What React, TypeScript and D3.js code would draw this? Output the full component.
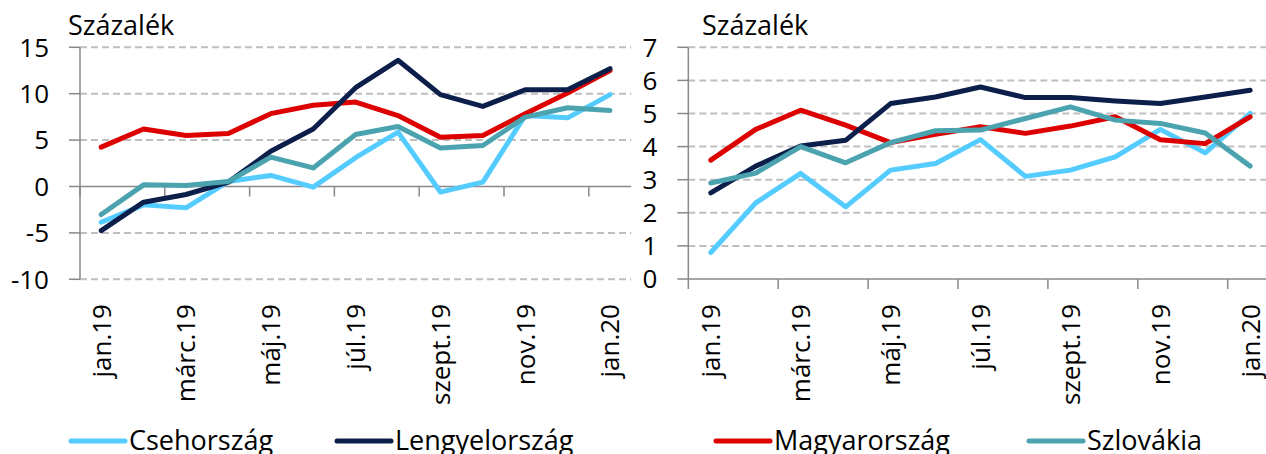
import React from "react";
import * as d3 from "d3";

const categories = ["jan.19","febr.19","márc.19","ápr.19","máj.19","jún.19","júl.19","aug.19","szept.19","okt.19","nov.19","dec.19","jan.20"];
const xTickLabels = ["jan.19","márc.19","máj.19","júl.19","szept.19","nov.19","jan.20"];
const seriesNames = ["Csehország","Lengyelország","Magyarország","Szlovákia"];
const seriesColors = ["#55CCFF","#0C1F4B","#DD0000","#4AA3AF"];

const leftTicks = [-10,-5,0,5,10,15];
const rightTicks = [0,1,2,3,4,5,6,7];

const leftCz = [-3.85,-1.98,-2.3,0.54,1.19,-0.07,3.1,5.86,-0.6,0.47,7.66,7.4,9.9];
const leftPl = [-4.75,-1.69,-0.86,0.47,3.8,6.2,10.65,13.6,9.9,8.63,10.43,10.43,12.7];
const leftHu = [4.24,6.2,5.5,5.7,7.85,8.75,9.1,7.65,5.3,5.5,7.85,10.07,12.5];
const leftSk = [-3.02,0.18,0.1,0.54,3.16,2.0,5.6,6.47,4.14,4.42,7.48,8.49,8.2];

const rightCz = [0.8,2.3,3.19,2.18,3.29,3.49,4.21,3.1,3.29,3.69,4.52,3.81,5.0];
const rightPl = [2.6,3.41,4.02,4.19,5.3,5.5,5.8,5.48,5.48,5.38,5.3,5.5,5.7];
const rightHu = [3.59,4.52,5.1,4.65,4.12,4.37,4.6,4.4,4.62,4.9,4.21,4.09,4.9];
const rightSk = [2.9,3.2,4.0,3.51,4.12,4.48,4.5,4.85,5.2,4.8,4.7,4.41,3.41];

const FONT = "'Open Sans', sans-serif";
const FS = 26;
const FS_TEXT = 27;
const AXIS = "#898989";
const GRID = "#BFBFBF";
// drawing order (index into seriesNames): Cz, Hu, Pl, Sk
const drawOrder = [0, 2, 1, 3];

type PanelProps = {
  left: number; right: number; top: number; bottom: number;
  domain: [number, number]; ticks: number[]; data: number[][];
  titleX: number; clipRight: number;
};

function Panel({ left, right, top, bottom, domain, ticks, data, titleX, clipRight }: PanelProps) {
  const x = d3.scaleBand<string>().domain(categories).range([left, right]).padding(0);
  const y = d3.scaleLinear().domain(domain).range([bottom, top]);
  const bw = x.bandwidth();
  const cx = (c: string) => (x(c) as number) + bw / 2;
  const line = d3.line<number>().x((_, i) => cx(categories[i])).y((v) => y(v));
  const axisY = y(0);
  const gridEnd = Math.min(right, clipRight);
  const tickBoundaries = d3.range(0, categories.length, 2).map((i) => x(categories[i]) as number);
  return (
    <g>
      <text x={titleX} y={35} fontFamily={FONT} fontSize={FS_TEXT} fill="#000">Százalék</text>
      {ticks.map((t) => (
        <g key={t}>
          {t !== 0 && (
            <line x1={left} x2={gridEnd} y1={y(t)} y2={y(t)} stroke={GRID} strokeWidth={2} strokeDasharray="7 4" />
          )}
          <line x1={left - 11} x2={left} y1={y(t)} y2={y(t)} stroke={AXIS} strokeWidth={1.5} />
          <text x={left - 31} y={y(t)} dy="0.36em" textAnchor="end" fontFamily={FONT} fontSize={FS} fill="#000">{t}</text>
        </g>
      ))}
      <line x1={left} x2={left} y1={top} y2={bottom} stroke={AXIS} strokeWidth={1.5} />
      <line x1={left} x2={gridEnd} y1={axisY} y2={axisY} stroke={AXIS} strokeWidth={1.5} />
      {tickBoundaries.map((bx, i) => (
        <line key={i} x1={bx} x2={bx} y1={axisY} y2={axisY + 10} stroke={AXIS} strokeWidth={1.5} />
      ))}
      {xTickLabels.map((lab) => (
        <text key={lab} transform={`translate(${cx(lab)},${304}) rotate(-90)`} dy="0.36em" textAnchor="end"
          fontFamily={FONT} fontSize={FS} fill="#000">{lab}</text>
      ))}
      {drawOrder.map((si) => (
        <path key={si} d={line(data[si]) as string} fill="none" stroke={seriesColors[si]} strokeWidth={5}
          strokeLinejoin="round" strokeLinecap="round" />
      ))}
    </g>
  );
}

const legendLineX = [71, 337, 716, 1029];

export default function App() {
  return (
    <svg width={1266} height={454} style={{ position: "absolute", left: 0, top: 0, background: "#fff" }}>
      <rect width={1266} height={454} fill="#fff" />
      <Panel left={80} right={631.2} top={47.3} bottom={279.3} domain={[-10, 15]} ticks={leftTicks}
        data={[leftCz, leftPl, leftHu, leftSk]} titleX={68} clipRight={631.2} />
      <Panel left={688.3} right={1272.65} top={47.3} bottom={279} domain={[0, 7]} ticks={rightTicks}
        data={[rightCz, rightPl, rightHu, rightSk]} titleX={702} clipRight={1266} />
      {seriesNames.map((n, i) => (
        <g key={n}>
          <line x1={legendLineX[i]} x2={legendLineX[i] + 54} y1={441} y2={441} stroke={seriesColors[i]} strokeWidth={5} strokeLinecap="round" />
          <text x={legendLineX[i] + 58} y={450} fontFamily={FONT} fontSize={FS_TEXT} fill="#000">{n}</text>
        </g>
      ))}
    </svg>
  );
}
